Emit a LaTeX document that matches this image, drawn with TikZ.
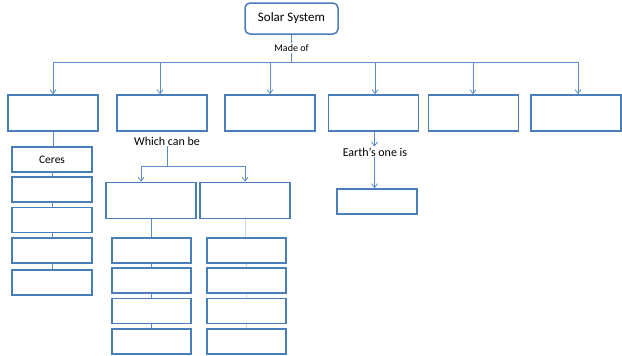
\documentclass[tikz,border=0pt]{standalone}
\usepackage{fontspec}
\setmainfont{Carlito}
\usetikzlibrary{arrows.meta}
\definecolor{boxblue}{HTML}{4A7EBB}
\definecolor{lineblue}{HTML}{5B8CC8}
\tikzset{
  x=1pt,y=-1pt,
  bx/.style={draw=boxblue,line width=1.5pt,fill=white,inner sep=0pt,minimum width=90pt,minimum height=36pt},
  sbx/.style={bx,minimum width=80pt,minimum height=25pt},
  conn/.style={draw=lineblue,line width=0.8pt},
  arr/.style={conn,-{Straight Barb[length=4pt,width=6pt]}},
  lbl/.style={font=\fontsize{12}{14}\selectfont,inner sep=1pt},
}
\begin{document}
\begin{tikzpicture}
\useasboundingbox (0,0) rectangle (622,356);
% top
\node[bx,rounded corners=5pt,minimum width=93pt,minimum height=31pt,font=\fontsize{13}{15}\selectfont] (ss) at (291.5,18.5) {Solar System};
\coordinate (hc) at (291.5,62);
\draw[conn] (ss.south) -- (hc);
\node[lbl,font=\fontsize{10}{12}\selectfont,fill=white] (madeof) at (291.5,48) {Made of};
% row 1
\node[bx] (b1) at (53,113) {};
\node[bx] (b2) at (162,113) {};
\node[bx] (b3) at (270,113) {};
\node[bx] (b4) at (373.5,113) {};
\node[bx] (b5) at (473.5,113) {};
\node[bx] (b6) at (576,113) {};
\coordinate (hl) at (53,62);
\coordinate (hr) at (578,62);
\draw[conn] (hl) -- (hr);
\draw[arr] (hl) -- (b1.north);
\foreach \n/\xx in {b2/160,b3/270,b4/375,b5/473,b6/578}{
  \coordinate (t\n) at (\xx,62);
  \draw[arr] (t\n) -- (t\n |- \n.north);
}
% column 1
\node[sbx,font=\fontsize{11.5}{13}\selectfont] (c1) at (52,159.5) {Ceres};
\node[sbx] (c2) at (52,189.5) {};
\node[sbx] (c3) at (52,220) {};
\node[sbx] (c4) at (52,250.5) {};
\node[sbx] (c5) at (52,282.5) {};
\draw[conn] (b1.south) -- (b1.south |- c1.north);
\foreach \a/\b in {c1/c2,c2/c3,c3/c4,c4/c5}{
  \draw[conn] (\a.south) -- (\a.south |- \b.north);
}
% column 2
\node[lbl] (wcb) at (167,141) {Which can be};
\node[bx] (A) at (151,200.5) {};
\node[bx] (B) at (245,200.5) {};
\coordinate (wm) at (167,166);
\coordinate (wl) at (141,166);
\coordinate (wr) at (245,166);
\draw[conn] (wcb.south) -- (wm);
\draw[conn] (wl) -- (wr);
\draw[arr] (wl) -- (wl |- A.north);
\draw[arr] (wr) -- (B.north);
\foreach \i/\yy in {1/250.5,2/280.5,3/311,4/341.5}{
  \node[sbx,minimum width=79pt] (a\i) at (151.5,\yy) {};
  \node[sbx,minimum width=79pt] (bb\i) at (246.5,\yy) {};
}
\draw[conn] (A.south) -- (A.south |- a1.north);
\draw[conn,draw=lineblue!35] (B.south) -- (B.south |- bb1.north);
\foreach \a/\b in {1/2,2/3,3/4}{
  \draw[conn] (a\a.south) -- (a\a.south |- a\b.north);
  \draw[conn,draw=lineblue!35] (bb\a.south) -- (bb\a.south |- bb\b.north);
}
% earth
\node[lbl] (earth) at (375,152) {Earth’s one is};
\node[sbx] (e1) at (377,201.5) {};
\coordinate (et) at (374.5,131);
\draw[arr] (b4.south -| et) -- (et |- earth.north);
\draw[arr] (et |- earth.south) -- (et |- e1.north);
\end{tikzpicture}
\end{document}
